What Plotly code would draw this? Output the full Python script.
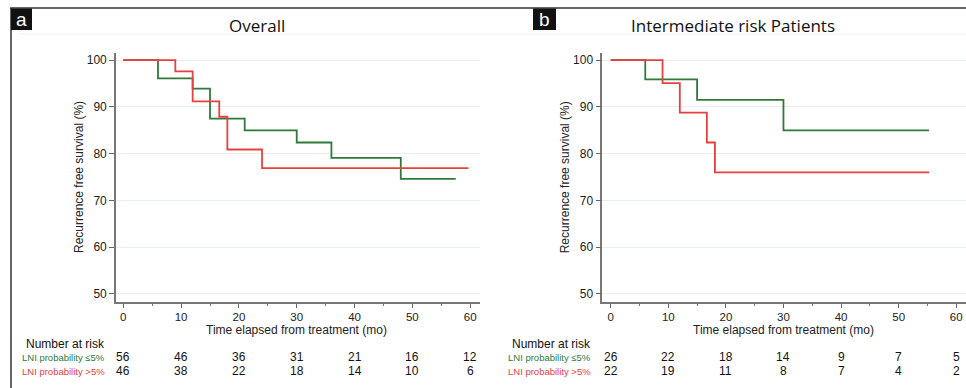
import plotly.graph_objects as go

W, H = 966, 388

# ---------------- data ----------------
a_low_t = [0, 6, 12, 15, 21, 30, 36, 48, 57.5]
a_low_s = [100, 96.1, 93.9, 87.5, 85.0, 82.4, 79.1, 74.6, 74.6]
a_high_t = [0, 9, 12, 16.6, 18, 24, 59.7]
a_high_s = [100, 97.6, 91.2, 87.9, 80.9, 76.9, 76.9]

b_low_t = [0, 6, 15, 30, 55.3]
b_low_s = [100, 95.9, 91.5, 85.0, 85.0]
b_high_t = [0, 9, 12, 16.7, 18.1, 55.3]
b_high_s = [100, 95.1, 88.8, 82.4, 76.0, 76.0]

risk_times = [0, 10, 20, 30, 40, 50, 60]
a_risk_low = [56, 46, 36, 31, 21, 16, 12]
a_risk_high = [46, 38, 22, 18, 14, 10, 6]
b_risk_low = [26, 22, 18, 14, 9, 7, 5]
b_risk_high = [22, 19, 11, 8, 7, 4, 2]

x_ticks = [0, 10, 20, 30, 40, 50, 60]
y_ticks = [50, 60, 70, 80, 90, 100]

titles = ["Overall", "Intermediate risk Patients"]
panel_labels = ["a", "b"]
row_labels = ["LNI probability \u22645%", "LNI probability >5%"]

GREEN = "#2f7a3a"
RED = "#e8403f"
FONT = "Liberation Sans, Arial, sans-serif"


def px(x):
    return x / W


def py(y):
    return 1 - y / H


fig = go.Figure()

panels = [
    dict(xa="x", ya="y", low=(a_low_t, a_low_s), high=(a_high_t, a_high_s),
         rl=a_risk_low, rh=a_risk_high),
    dict(xa="x2", ya="y2", low=(b_low_t, b_low_s), high=(b_high_t, b_high_s),
         rl=b_risk_low, rh=b_risk_high),
]

for p in panels:
    fig.add_trace(go.Scatter(x=p["low"][0], y=p["low"][1], mode="lines",
                             line=dict(color=GREEN, width=1.8, shape="hv"),
                             xaxis=p["xa"], yaxis=p["ya"], showlegend=False))
    fig.add_trace(go.Scatter(x=p["high"][0], y=p["high"][1], mode="lines",
                             line=dict(color=RED, width=1.8, shape="hv"),
                             xaxis=p["xa"], yaxis=p["ya"], showlegend=False))

ytop, ybot = 52.7, 301.7
ydom = [py(ybot), py(ytop)]

common_x = dict(
    tickvals=x_ticks, ticks="outside", ticklen=4, tickwidth=1.2, tickcolor="#666",
    showline=True, linecolor="#777", linewidth=1.6, showgrid=False, zeroline=False,
    tickfont=dict(family=FONT, size=11.5, color="#222"),
    minor=dict(dtick=5, tick0=0, ticks="outside", ticklen=2, tickcolor="#777"),
    fixedrange=True,
)
common_y = dict(
    tickvals=y_ticks, ticks="outside", ticklen=5, tickwidth=1.2, tickcolor="#666",
    showline=True, linecolor="#777", linewidth=1.6, showgrid=True,
    gridcolor="#e9eff1", gridwidth=1, zeroline=False,
    tickfont=dict(family=FONT, size=12, color="#222"),
    range=[48.35, 101.6], domain=ydom, fixedrange=True,
)

fig.update_layout(
    width=W, height=H,
    margin=dict(l=0, r=0, t=0, b=0),
    paper_bgcolor="white", plot_bgcolor="white",
    xaxis=dict(common_x, domain=[px(116), px(480)], range=[-1.26, 61.7], anchor="y"),
    yaxis=dict(common_y, anchor="x"),
    xaxis2=dict(common_x, domain=[px(602.3), 1.0], range=[-1.46, 61.7], anchor="y2"),
    yaxis2=dict(common_y, anchor="x2"),
)

shapes = [
    # frame lines
    dict(type="line", xref="paper", yref="paper", x0=px(10), x1=1, y0=py(8), y1=py(8),
         line=dict(color="#333", width=1.5)),
    dict(type="line", xref="paper", yref="paper", x0=px(11), x1=px(11), y0=py(8), y1=0,
         line=dict(color="#333", width=1.5)),
    dict(type="line", xref="paper", yref="paper", x0=px(18), x1=1, y0=py(34), y1=py(34),
         line=dict(color="#f1f3f4", width=1)),
    # panel label boxes
    dict(type="rect", xref="paper", yref="paper", x0=px(11), x1=px(32), y0=py(30), y1=py(8.5),
         fillcolor="#111", line=dict(width=0)),
    dict(type="rect", xref="paper", yref="paper", x0=px(533), x1=px(556), y0=py(30), y1=py(8.5),
         fillcolor="#111", line=dict(width=0)),
]
fig.update_layout(shapes=shapes)

ann = []
# panel letters
for lab, cx in zip(panel_labels, [21.5, 544.5]):
    ann.append(dict(text=lab, x=px(cx), y=py(19), xref="paper", yref="paper",
                    showarrow=False, xanchor="center", yanchor="middle",
                    font=dict(family=FONT, size=19, color="white")))
# titles
for t, cx in zip(titles, [257, 732.5]):
    ann.append(dict(text=t, x=px(cx), y=py(26), xref="paper", yref="paper",
                    showarrow=False, xanchor="center", yanchor="middle",
                    font=dict(family="Open Sans, sans-serif", size=17, color="#111")))

for i, p in enumerate(panels):
    xref = p["xa"]
    yaxis_x = 116 if i == 0 else 602.3
    label_right = 107 if i == 0 else 593
    # y-axis title
    ann.append(dict(text="Recurrence free survival (%)", x=px(yaxis_x - 37), y=py(177),
                    xref="paper", yref="paper", showarrow=False, textangle=-90,
                    xanchor="center", yanchor="middle",
                    font=dict(family=FONT, size=12, color="#222")))
    # x-axis title
    ann.append(dict(text="Time elapsed from treatment (mo)", x=30, y=py(330),
                    xref=xref, yref="paper", showarrow=False,
                    xanchor="center", yanchor="middle",
                    font=dict(family=FONT, size=12, color="#222")))
    # number at risk header
    ann.append(dict(text="Number at risk", x=px(label_right), y=py(344),
                    xref="paper", yref="paper", showarrow=False,
                    xanchor="right", yanchor="middle",
                    font=dict(family=FONT, size=12, color="#111")))
    for rl, col, yy in [(row_labels[0], GREEN, 357.3), (row_labels[1], RED, 371.3)]:
        ann.append(dict(text=rl, x=px(label_right), y=py(yy),
                        xref="paper", yref="paper", showarrow=False,
                        xanchor="right", yanchor="middle",
                        font=dict(family=FONT, size=9.5, color=col)))
    for vals, yy in [(p["rl"], 357.3), (p["rh"], 371.3)]:
        for t, v in zip(risk_times, vals):
            ann.append(dict(text=str(v), x=t, y=py(yy), xref=xref, yref="paper",
                            showarrow=False, xanchor="center", yanchor="middle",
                            font=dict(family=FONT, size=12, color="#111")))

fig.update_layout(annotations=ann)

fig.write_html("out.html",
               config={"displayModeBar": False},
               post_script="document.body.style.margin='0px';"
                           "document.body.style.overflow='hidden';")
